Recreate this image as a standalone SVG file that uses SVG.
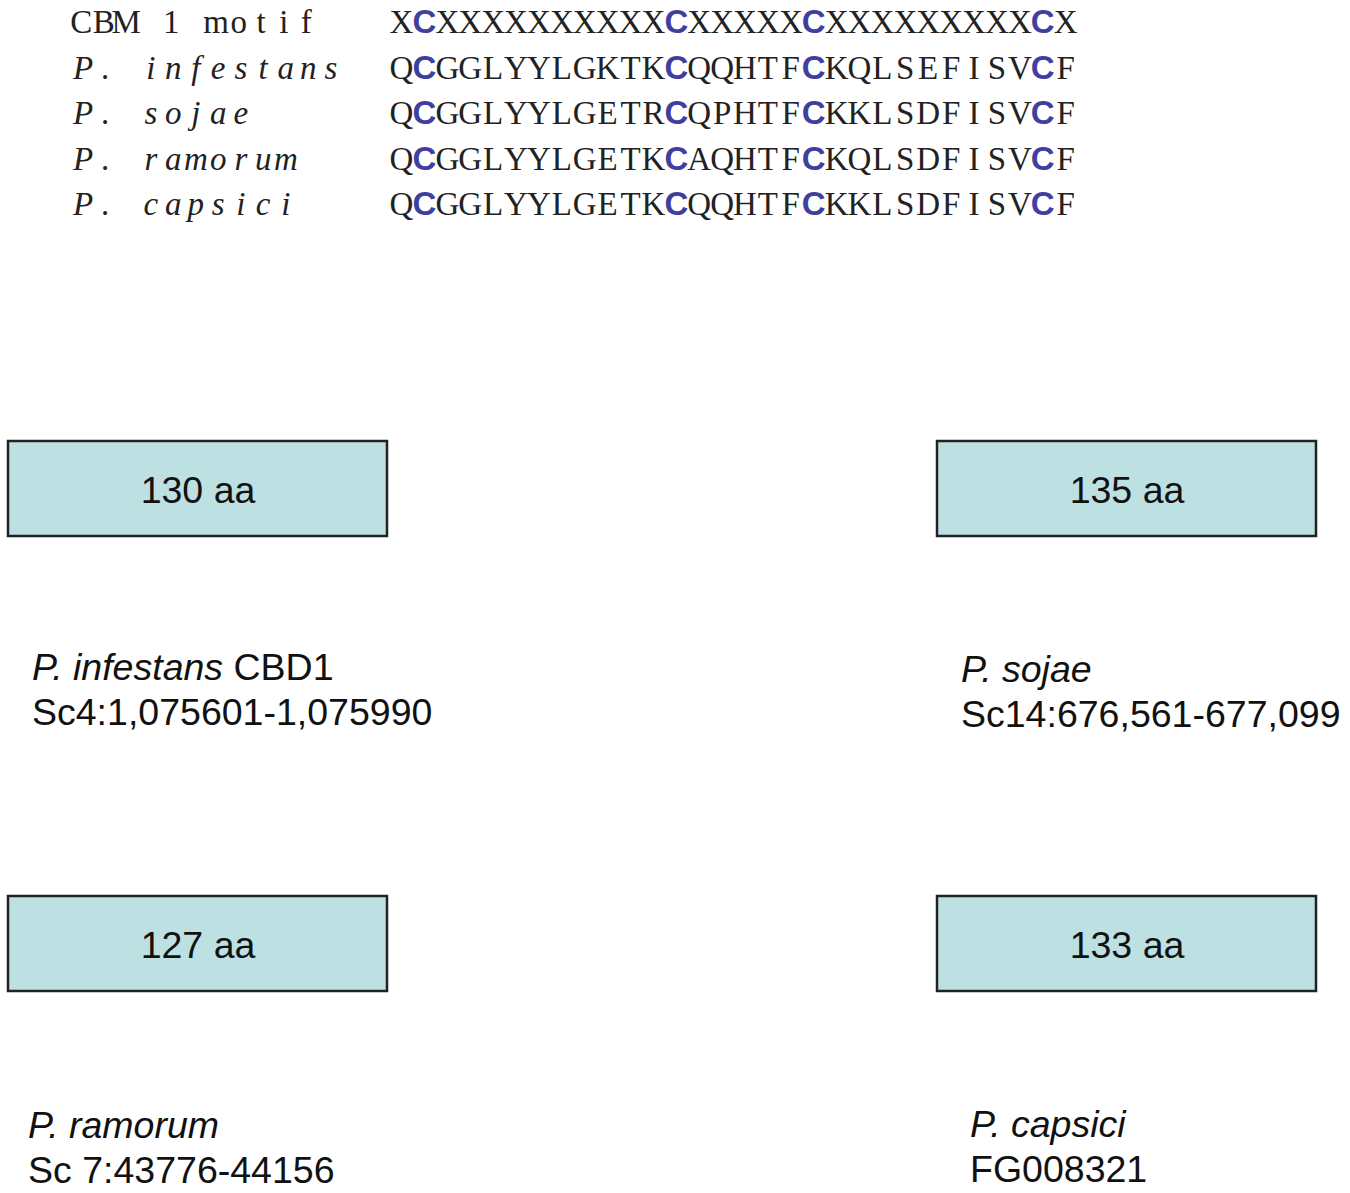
<svg xmlns="http://www.w3.org/2000/svg" width="1350" height="1193" viewBox="0 0 1350 1193">
<style>
.m{font-family:"Liberation Serif","Times New Roman",serif;font-size:33px;fill:#222}
.q{text-anchor:middle}
.i{font-style:italic}
.c{font-family:"Liberation Sans",Arial,sans-serif;font-weight:bold;fill:#3f3fa0}
.s{font-family:"Liberation Sans",Arial,sans-serif;font-size:37.5px;fill:#111}
.b{fill:#bde0e3;stroke:#222;stroke-width:2.5}
</style>
<rect width="1350" height="1193" fill="#fff"/>
<g id="alignment">
<text class="m q" y="33" x="81.2 103.8 126.2 148.8 171.2 193.8 216.2 238.8 261.2 283.8 306.2">CBM 1 motif</text>
<text class="m i q" y="79" x="83.2 105.8 128.2 150.8 173.2 195.8 218.2 240.8 263.2 285.8 308.2 330.8">P. infestans</text>
<text class="m i q" y="124" x="83.2 105.8 128.2 150.8 173.2 195.8 218.2 240.8">P. sojae</text>
<text class="m i q" y="170" x="83.2 105.8 128.2 150.8 173.2 195.8 218.2 240.8 263.2 285.8">P. ramorum</text>
<text class="m i q" y="215" x="83.2 105.8 128.2 150.8 173.2 195.8 218.2 240.8 263.2 285.8">P. capsici</text>
<text class="m q" y="33" x="401.5 424.4 447.3 470.2 493.1 516.0 538.9 561.8 584.7 607.6 630.5 653.4 676.3 699.2 722.1 745.0 767.9 790.8 813.7 836.6 859.5 882.4 905.3 928.2 951.1 974.0 996.9 1019.8 1042.7 1065.6">X<tspan class="c">C</tspan>XXXXXXXXXX<tspan class="c">C</tspan>XXXXX<tspan class="c">C</tspan>XXXXXXXXX<tspan class="c">C</tspan>X</text>
<text class="m q" y="79" x="401.5 424.4 447.3 470.2 493.1 516.0 538.9 561.8 584.7 607.6 630.5 653.4 676.3 699.2 722.1 745.0 767.9 790.8 813.7 836.6 859.5 882.4 905.3 928.2 951.1 974.0 996.9 1019.8 1042.7 1065.6">Q<tspan class="c">C</tspan>GGLYYLGKTK<tspan class="c">C</tspan>QQHTF<tspan class="c">C</tspan>KQLSEFISV<tspan class="c">C</tspan>F</text>
<text class="m q" y="124" x="401.5 424.4 447.3 470.2 493.1 516.0 538.9 561.8 584.7 607.6 630.5 653.4 676.3 699.2 722.1 745.0 767.9 790.8 813.7 836.6 859.5 882.4 905.3 928.2 951.1 974.0 996.9 1019.8 1042.7 1065.6">Q<tspan class="c">C</tspan>GGLYYLGETR<tspan class="c">C</tspan>QPHTF<tspan class="c">C</tspan>KKLSDFISV<tspan class="c">C</tspan>F</text>
<text class="m q" y="170" x="401.5 424.4 447.3 470.2 493.1 516.0 538.9 561.8 584.7 607.6 630.5 653.4 676.3 699.2 722.1 745.0 767.9 790.8 813.7 836.6 859.5 882.4 905.3 928.2 951.1 974.0 996.9 1019.8 1042.7 1065.6">Q<tspan class="c">C</tspan>GGLYYLGETK<tspan class="c">C</tspan>AQHTF<tspan class="c">C</tspan>KQLSDFISV<tspan class="c">C</tspan>F</text>
<text class="m q" y="215" x="401.5 424.4 447.3 470.2 493.1 516.0 538.9 561.8 584.7 607.6 630.5 653.4 676.3 699.2 722.1 745.0 767.9 790.8 813.7 836.6 859.5 882.4 905.3 928.2 951.1 974.0 996.9 1019.8 1042.7 1065.6">Q<tspan class="c">C</tspan>GGLYYLGETK<tspan class="c">C</tspan>QQHTF<tspan class="c">C</tspan>KKLSDFISV<tspan class="c">C</tspan>F</text>
</g>
<g id="infestans">
<rect class="b" x="8" y="441" width="379" height="95"/>
<text class="s" x="198" y="503" text-anchor="middle">130 aa</text>
<text class="s" x="32" y="680"><tspan class="i">P. infestans</tspan> CBD1</text>
<text class="s" x="32" y="725">Sc4:1,075601-1,075990</text>
</g>
<g id="sojae">
<rect class="b" x="937" y="441" width="379" height="95"/>
<text class="s" x="1127" y="503" text-anchor="middle">135 aa</text>
<text class="s i" x="961" y="682">P. sojae</text>
<text class="s" x="961" y="727">Sc14:676,561-677,099</text>
</g>
<g id="ramorum">
<rect class="b" x="8" y="896" width="379" height="95"/>
<text class="s" x="198" y="958" text-anchor="middle">127 aa</text>
<text class="s i" x="28" y="1138">P. ramorum</text>
<text class="s" x="28" y="1183">Sc 7:43776-44156</text>
</g>
<g id="capsici">
<rect class="b" x="937" y="896" width="379" height="95"/>
<text class="s" x="1127" y="958" text-anchor="middle">133 aa</text>
<text class="s i" x="970" y="1137">P. capsici</text>
<text class="s" x="970" y="1182">FG008321</text>
</g>
<g id="connectors"></g>
</svg>
